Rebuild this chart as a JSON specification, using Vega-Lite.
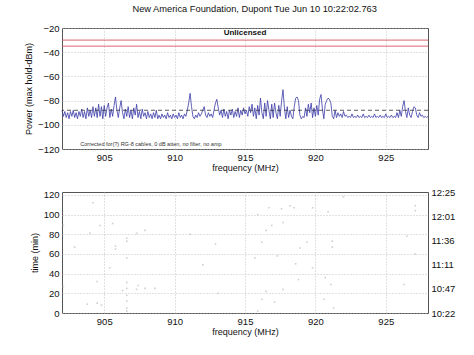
{
  "$schema": "https://vega.github.io/schema/vega-lite/v6.json",
  "padding": {"left": 24, "top": 5, "right": 5, "bottom": 5},
  "title": {"text": "New America Foundation, Dupont  Tue Jun 10 10:22:02.763", "fontSize": 9.3, "fontWeight": "normal", "font": "Liberation Sans", "anchor": "middle", "offset": 8, "dx": 15, "color": "#111"},
  "config": {
    "font": "Liberation Sans",
    "view": {"stroke": "#555", "strokeWidth": 1},
    "axis": {"labelFontSize": 9.5, "titleFontSize": 9, "titleFontWeight": "normal", "labelColor": "#111", "titleColor": "#111", "gridColor": "#b4b4b4", "gridDash": [1, 2], "gridOpacity": 1, "gridWidth": 0.8, "domain": false, "ticks": false, "labelPadding": 3, "labelOverlap": false, "labelBound": false, "labelFlush": false}
  },
  "datasets": {
    "spec": [
      {"f":902.0,"p":-88},{"f":902.1,"p":-93},{"f":902.2,"p":-89},{"f":902.3,"p":-94},{"f":902.4,"p":-90},{"f":902.5,"p":-95},{"f":902.6,"p":-89},{"f":902.7,"p":-93},{"f":902.8,"p":-88},{"f":902.9,"p":-94},
      {"f":903.0,"p":-90},{"f":903.1,"p":-95},{"f":903.2,"p":-89},{"f":903.3,"p":-93},{"f":903.4,"p":-87},{"f":903.5,"p":-94},{"f":903.6,"p":-89},{"f":903.7,"p":-95},{"f":903.8,"p":-86},{"f":903.9,"p":-93},
      {"f":904.0,"p":-88},{"f":904.1,"p":-94},{"f":904.2,"p":-85},{"f":904.3,"p":-93},{"f":904.4,"p":-86},{"f":904.5,"p":-94},{"f":904.6,"p":-83},{"f":904.7,"p":-93},{"f":904.8,"p":-85},{"f":904.9,"p":-95},
      {"f":905.0,"p":-84},{"f":905.1,"p":-93},{"f":905.2,"p":-86},{"f":905.3,"p":-82},{"f":905.4,"p":-94},{"f":905.5,"p":-87},{"f":905.6,"p":-93},{"f":905.7,"p":-84},{"f":905.8,"p":-77},{"f":905.9,"p":-88},
      {"f":906.0,"p":-94},{"f":906.1,"p":-86},{"f":906.2,"p":-80},{"f":906.3,"p":-90},{"f":906.4,"p":-95},{"f":906.5,"p":-87},{"f":906.6,"p":-93},{"f":906.7,"p":-85},{"f":906.8,"p":-94},{"f":906.9,"p":-88},
      {"f":907.0,"p":-95},{"f":907.1,"p":-86},{"f":907.2,"p":-92},{"f":907.3,"p":-83},{"f":907.4,"p":-94},{"f":907.5,"p":-89},{"f":907.6,"p":-95},{"f":907.7,"p":-87},{"f":907.8,"p":-93},{"f":907.9,"p":-90},
      {"f":908.0,"p":-95},{"f":908.1,"p":-89},{"f":908.2,"p":-94},{"f":908.3,"p":-91},{"f":908.4,"p":-95},{"f":908.5,"p":-90},{"f":908.6,"p":-94},{"f":908.7,"p":-88},{"f":908.8,"p":-95},{"f":908.9,"p":-92},
      {"f":909.0,"p":-95},{"f":909.1,"p":-91},{"f":909.2,"p":-94},{"f":909.3,"p":-92},{"f":909.4,"p":-95},{"f":909.5,"p":-90},{"f":909.6,"p":-94},{"f":909.7,"p":-92},{"f":909.8,"p":-95},{"f":909.9,"p":-91},
      {"f":910.0,"p":-94},{"f":910.1,"p":-92},{"f":910.2,"p":-95},{"f":910.3,"p":-90},{"f":910.4,"p":-94},{"f":910.5,"p":-92},{"f":910.6,"p":-95},{"f":910.7,"p":-91},{"f":910.8,"p":-93},{"f":910.9,"p":-88},
      {"f":911.0,"p":-82},{"f":911.1,"p":-74},{"f":911.2,"p":-85},{"f":911.3,"p":-93},{"f":911.4,"p":-95},{"f":911.5,"p":-92},{"f":911.6,"p":-94},{"f":911.7,"p":-90},{"f":911.8,"p":-93},{"f":911.9,"p":-91},
      {"f":912.0,"p":-88},{"f":912.1,"p":-85},{"f":912.2,"p":-92},{"f":912.3,"p":-94},{"f":912.4,"p":-90},{"f":912.5,"p":-93},{"f":912.6,"p":-91},{"f":912.7,"p":-94},{"f":912.8,"p":-88},{"f":912.9,"p":-82},
      {"f":913.0,"p":-79},{"f":913.1,"p":-86},{"f":913.2,"p":-92},{"f":913.3,"p":-88},{"f":913.4,"p":-94},{"f":913.5,"p":-87},{"f":913.6,"p":-93},{"f":913.7,"p":-89},{"f":913.8,"p":-95},{"f":913.9,"p":-88},
      {"f":914.0,"p":-92},{"f":914.1,"p":-87},{"f":914.2,"p":-94},{"f":914.3,"p":-89},{"f":914.4,"p":-93},{"f":914.5,"p":-86},{"f":914.6,"p":-94},{"f":914.7,"p":-88},{"f":914.8,"p":-92},{"f":914.9,"p":-86},
      {"f":915.0,"p":-91},{"f":915.1,"p":-88},{"f":915.2,"p":-93},{"f":915.3,"p":-85},{"f":915.4,"p":-90},{"f":915.5,"p":-83},{"f":915.6,"p":-93},{"f":915.7,"p":-86},{"f":915.8,"p":-95},{"f":915.9,"p":-84},
      {"f":916.0,"p":-92},{"f":916.1,"p":-78},{"f":916.2,"p":-90},{"f":916.3,"p":-95},{"f":916.4,"p":-82},{"f":916.5,"p":-93},{"f":916.6,"p":-80},{"f":916.7,"p":-88},{"f":916.8,"p":-95},{"f":916.9,"p":-83},
      {"f":917.0,"p":-94},{"f":917.1,"p":-82},{"f":917.2,"p":-90},{"f":917.3,"p":-95},{"f":917.4,"p":-84},{"f":917.5,"p":-93},{"f":917.6,"p":-80},{"f":917.7,"p":-71},{"f":917.8,"p":-86},{"f":917.9,"p":-95},
      {"f":918.0,"p":-85},{"f":918.1,"p":-94},{"f":918.2,"p":-88},{"f":918.3,"p":-93},{"f":918.4,"p":-95},{"f":918.5,"p":-85},{"f":918.6,"p":-78},{"f":918.7,"p":-77},{"f":918.8,"p":-80},{"f":918.9,"p":-92},
      {"f":919.0,"p":-95},{"f":919.1,"p":-93},{"f":919.2,"p":-94},{"f":919.3,"p":-86},{"f":919.4,"p":-93},{"f":919.5,"p":-83},{"f":919.6,"p":-90},{"f":919.7,"p":-82},{"f":919.8,"p":-94},{"f":919.9,"p":-86},
      {"f":920.0,"p":-93},{"f":920.1,"p":-84},{"f":920.2,"p":-92},{"f":920.3,"p":-79},{"f":920.4,"p":-75},{"f":920.5,"p":-87},{"f":920.6,"p":-95},{"f":920.7,"p":-83},{"f":920.8,"p":-80},{"f":920.9,"p":-78},
      {"f":921.0,"p":-79},{"f":921.1,"p":-82},{"f":921.2,"p":-93},{"f":921.3,"p":-95},{"f":921.4,"p":-88},{"f":921.5,"p":-94},{"f":921.6,"p":-90},{"f":921.7,"p":-93},{"f":921.8,"p":-91},{"f":921.9,"p":-94},
      {"f":922.0,"p":-89},{"f":922.1,"p":-93},{"f":922.2,"p":-92},{"f":922.3,"p":-94},{"f":922.4,"p":-93},{"f":922.5,"p":-94},{"f":922.6,"p":-91},{"f":922.7,"p":-94},{"f":922.8,"p":-93},{"f":922.9,"p":-94},
      {"f":923.0,"p":-92},{"f":923.1,"p":-94},{"f":923.2,"p":-93},{"f":923.3,"p":-94},{"f":923.4,"p":-91},{"f":923.5,"p":-94},{"f":923.6,"p":-93},{"f":923.7,"p":-94},{"f":923.8,"p":-92},{"f":923.9,"p":-94},
      {"f":924.0,"p":-93},{"f":924.1,"p":-94},{"f":924.2,"p":-91},{"f":924.3,"p":-94},{"f":924.4,"p":-93},{"f":924.5,"p":-94},{"f":924.6,"p":-92},{"f":924.7,"p":-94},{"f":924.8,"p":-93},{"f":924.9,"p":-94},
      {"f":925.0,"p":-91},{"f":925.1,"p":-94},{"f":925.2,"p":-93},{"f":925.3,"p":-94},{"f":925.4,"p":-92},{"f":925.5,"p":-94},{"f":925.6,"p":-93},{"f":925.7,"p":-94},{"f":925.8,"p":-90},{"f":925.9,"p":-94},
      {"f":926.0,"p":-88},{"f":926.1,"p":-93},{"f":926.2,"p":-85},{"f":926.3,"p":-80},{"f":926.4,"p":-89},{"f":926.5,"p":-94},{"f":926.6,"p":-86},{"f":926.7,"p":-92},{"f":926.8,"p":-94},{"f":926.9,"p":-89},
      {"f":927.0,"p":-85},{"f":927.1,"p":-86},{"f":927.2,"p":-92},{"f":927.3,"p":-94},{"f":927.4,"p":-90},{"f":927.5,"p":-93},{"f":927.6,"p":-92},{"f":927.7,"p":-94},{"f":927.8,"p":-93},{"f":927.9,"p":-94},
      {"f":928.0,"p":-93}
    ],
    "dots": [
      {"f":904.2,"t":112},{"f":902.1,"t":89},{"f":904.7,"t":89},{"f":905.6,"t":91},{"f":904.0,"t":81},{"f":907.3,"t":81},{"f":906.6,"t":76},{"f":906.6,"t":73},{"f":907.9,"t":84},{"f":905.8,"t":68},
      {"f":905.8,"t":65},{"f":902.9,"t":67},{"f":911.1,"t":80},{"f":912.9,"t":70},{"f":912.0,"t":49},{"f":906.6,"t":56},{"f":905.4,"t":46},{"f":904.5,"t":32},{"f":906.3,"t":23},{"f":906.6,"t":25},
      {"f":907.3,"t":24},{"f":907.4,"t":28},{"f":907.9,"t":25},{"f":908.6,"t":25},{"f":913.1,"t":20},{"f":904.5,"t":10},{"f":903.8,"t":9},{"f":902.1,"t":27},{"f":904.8,"t":8},{"f":906.6,"t":5},
      {"f":906.6,"t":12},{"f":906.6,"t":18},{"f":906.6,"t":31},{"f":906.6,"t":2},
      {"f":922.0,"t":118},{"f":927.1,"t":109},{"f":927.1,"t":104},{"f":916.7,"t":107},{"f":917.6,"t":106},{"f":918.2,"t":109},{"f":918.5,"t":107},{"f":919.8,"t":107},{"f":915.9,"t":100},{"f":920.9,"t":103},
      {"f":917.7,"t":92},{"f":916.9,"t":89},{"f":916.5,"t":84},{"f":916.2,"t":72},{"f":919.4,"t":72},{"f":921.2,"t":73},{"f":921.2,"t":67},{"f":918.9,"t":66},{"f":917.3,"t":58},{"f":915.7,"t":56},
      {"f":927.1,"t":60},{"f":918.6,"t":50},{"f":919.8,"t":46},{"f":920.7,"t":36},{"f":921.1,"t":29},{"f":918.8,"t":34},{"f":926.3,"t":29},{"f":916.5,"t":22},{"f":917.7,"t":24},{"f":916.2,"t":14},
      {"f":917.1,"t":11},{"f":920.6,"t":14},{"f":921.3,"t":5},{"f":915.9,"t":2},{"f":926.5,"t":78}
    ]
  },
  "vconcat": [
    {
      "width": 366,
      "height": 121,
      "layer": [
        {
          "data": {"name": "spec"},
          "mark": {"type": "line", "color": "#3a3aa8", "strokeWidth": 0.8},
          "encoding": {
            "x": {"field": "f", "type": "quantitative", "scale": {"domain": [902, 928], "nice": false, "zero": false}, "axis": {"values": [905, 910, 915, 920, 925], "title": "frequency (MHz)", "titlePadding": 2}},
            "y": {"field": "p", "type": "quantitative", "scale": {"domain": [-120, -20], "nice": false, "zero": false}, "axis": {"values": [-120, -100, -80, -60, -40, -20], "title": "Power (max hold-dBm)", "titlePadding": 4, "labelOverlap": false}}
          }
        },
        {
          "data": {"values": [{"level": -30}, {"level": -35}]},
          "mark": {"type": "rule", "color": "#d8505e", "strokeWidth": 0.9},
          "encoding": {"y": {"field": "level", "type": "quantitative", "axis": {"values": [-120, -100, -80, -60, -40, -20], "labelOverlap": false}}}
        },
        {
          "data": {"values": [{"level": -88}]},
          "mark": {"type": "rule", "color": "#333", "strokeWidth": 0.8, "strokeDash": [4, 3]},
          "encoding": {"y": {"field": "level", "type": "quantitative", "axis": {"values": [-120, -100, -80, -60, -40, -20], "labelOverlap": false}}}
        },
        {
          "data": {"values": [{"f": 915, "p": -24.5, "label": "Unlicensed"}]},
          "mark": {"type": "text", "fontSize": 8, "fontWeight": "bold", "color": "#111"},
          "encoding": {"x": {"field": "f", "type": "quantitative"}, "y": {"field": "p", "type": "quantitative", "axis": {"values": [-120, -100, -80, -60, -40, -20], "labelOverlap": false}}, "text": {"field": "label"}}
        },
        {
          "data": {"values": [{"f": 903.3, "p": -118, "label": "Corrected for(?) RG-8 cables, 0 dB atten, no filter, no amp"}]},
          "mark": {"type": "text", "fontSize": 5.5, "align": "left", "baseline": "bottom", "color": "#333"},
          "encoding": {"x": {"field": "f", "type": "quantitative"}, "y": {"field": "p", "type": "quantitative", "axis": {"values": [-120, -100, -80, -60, -40, -20], "labelOverlap": false}}, "text": {"field": "label"}}
        }
      ]
    },
    {
      "width": 366,
      "height": 121,
      "data": {"name": "dots"},
      "layer": [
        {
          "mark": {"type": "square", "size": 2.5, "color": "#cfcfcf", "opacity": 1},
          "encoding": {
            "x": {"field": "f", "type": "quantitative", "scale": {"domain": [902, 928], "nice": false, "zero": false}, "axis": {"values": [905, 910, 915, 920, 925], "title": "frequency (MHz)", "titlePadding": 2}},
            "y": {"field": "t", "type": "quantitative", "scale": {"domain": [0, 123], "nice": false, "zero": false}, "axis": {"values": [0, 20, 40, 60, 80, 100, 120], "title": "time (min)", "titlePadding": 4, "orient": "left"}}
          }
        },
        {
          "mark": {"type": "square", "size": 3, "opacity": 0},
          "encoding": {
            "x": {"field": "f", "type": "quantitative"},
            "y": {"field": "t", "type": "quantitative", "axis": {"orient": "right", "title": null, "grid": false, "values": [0, 24.6, 49.2, 73.8, 98.4, 123], "labelExpr": "datum.value < 1 ? '10:22' : datum.value < 25 ? '10:47' : datum.value < 50 ? '11:11' : datum.value < 74 ? '11:36' : datum.value < 99 ? '12:01' : '12:25'"}}
          }
        }
      ],
      "resolve": {"axis": {"y": "independent"}}
    }
  ],
  "spacing": 13
}
